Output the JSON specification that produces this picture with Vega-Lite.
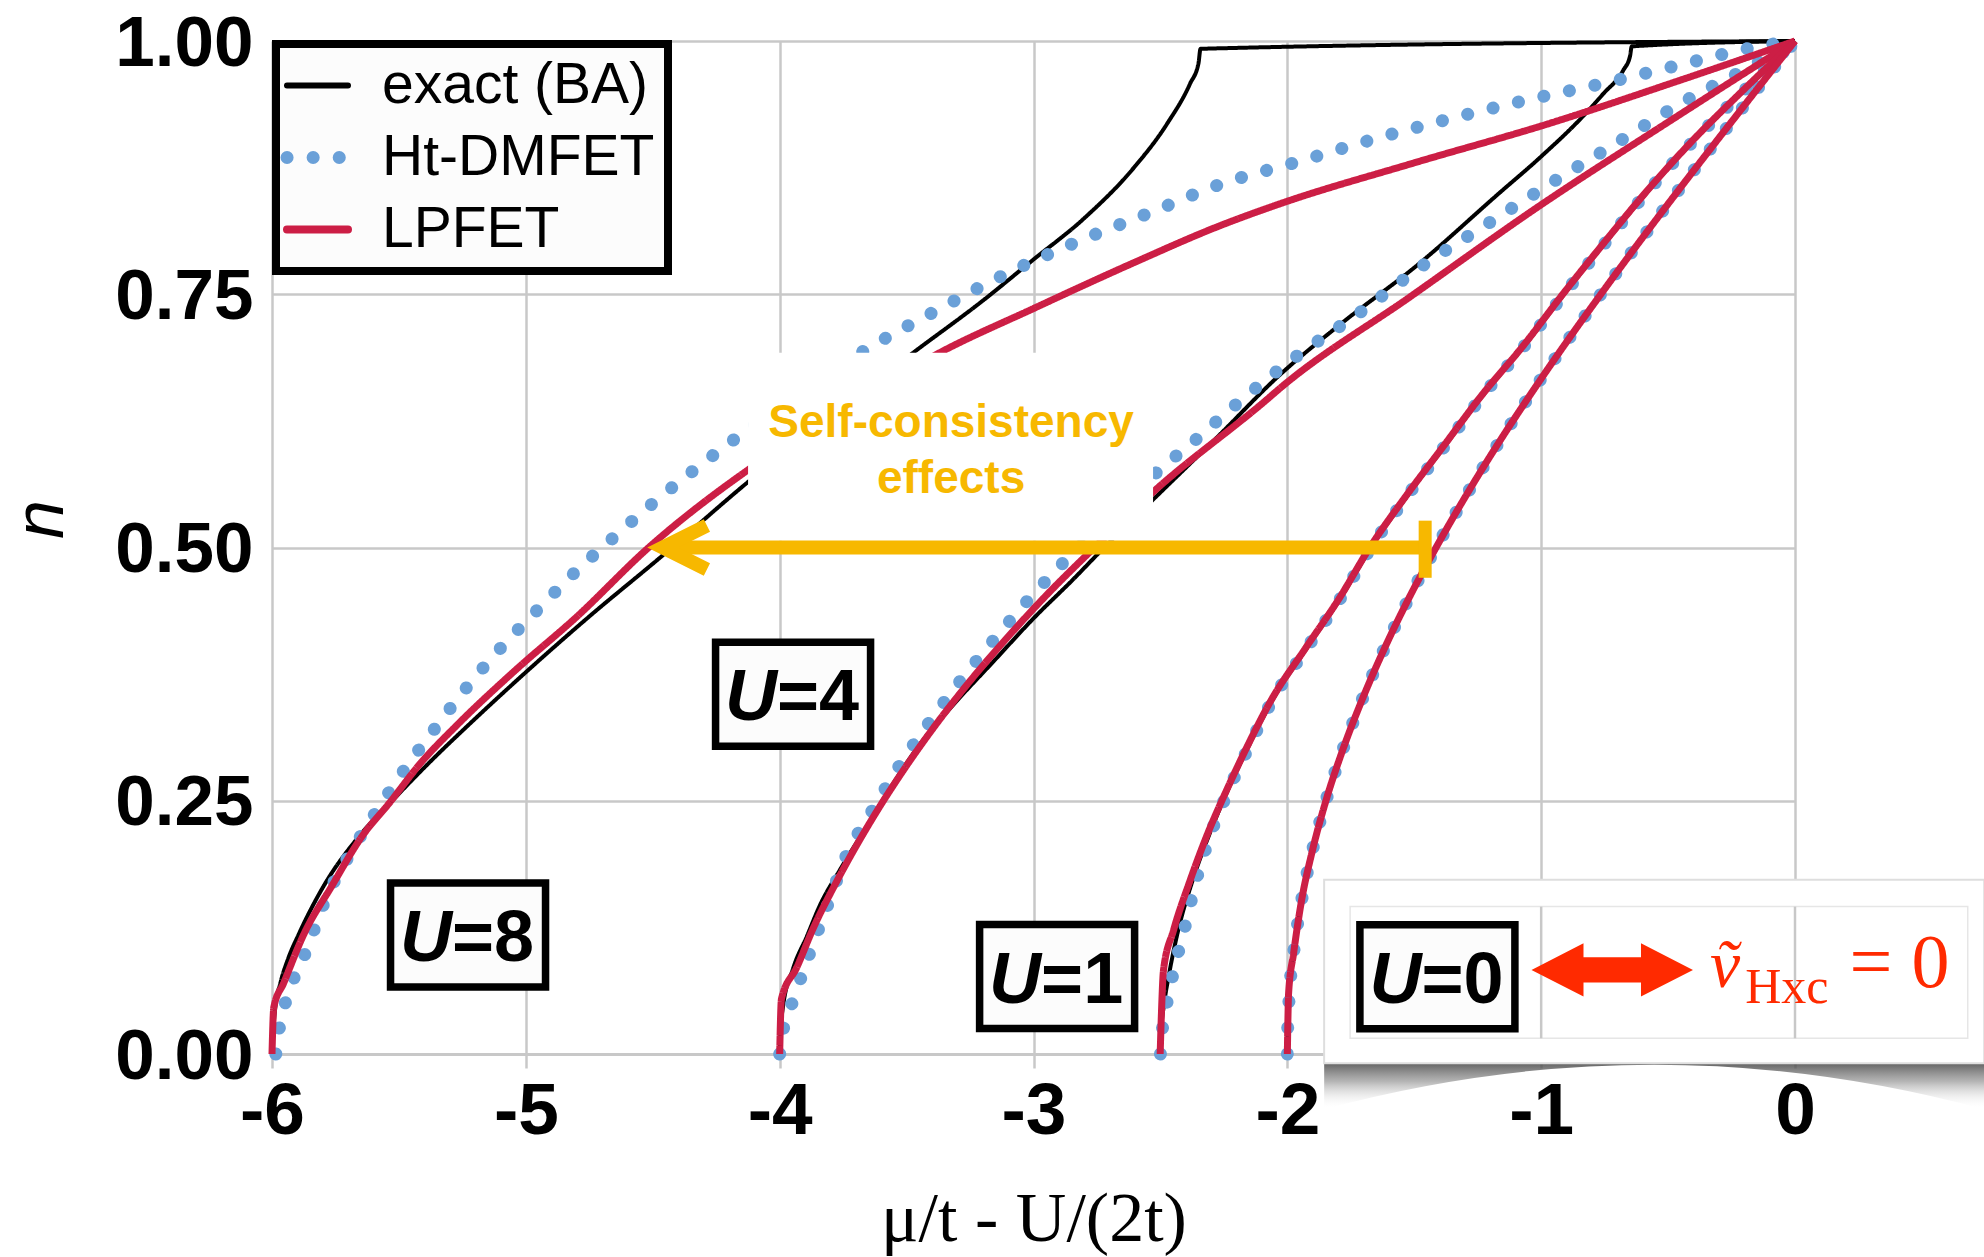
{
  "$schema": "https://vega.github.io/schema/vega-lite/v6.json",
  "width": 1523,
  "height": 1013,
  "autosize": {"type": "none"},
  "padding": {"left": 272, "top": 41, "right": 189, "bottom": 203},
  "background": "#ffffff",
  "config": {"view": {"stroke": null}, "font": "Liberation Sans"},
  "data": {"values": [
    {"U":8,"method":"exact (BA)","mu":-6.0,"n":0},
    {"U":8,"method":"exact (BA)","mu":-5.996,"n":0.02},
    {"U":8,"method":"exact (BA)","mu":-5.987,"n":0.046},
    {"U":8,"method":"exact (BA)","mu":-5.967,"n":0.07},
    {"U":8,"method":"exact (BA)","mu":-5.935,"n":0.095},
    {"U":8,"method":"exact (BA)","mu":-5.895,"n":0.118},
    {"U":8,"method":"exact (BA)","mu":-5.796,"n":0.166},
    {"U":8,"method":"exact (BA)","mu":-5.66,"n":0.214},
    {"U":8,"method":"exact (BA)","mu":-5.534,"n":0.248},
    {"U":8,"method":"exact (BA)","mu":-5.383,"n":0.287},
    {"U":8,"method":"exact (BA)","mu":-5.225,"n":0.325},
    {"U":8,"method":"exact (BA)","mu":-4.995,"n":0.378},
    {"U":8,"method":"exact (BA)","mu":-4.752,"n":0.4315},
    {"U":8,"method":"exact (BA)","mu":-4.476,"n":0.489},
    {"U":8,"method":"exact (BA)","mu":-4.128,"n":0.564},
    {"U":8,"method":"exact (BA)","mu":-3.8,"n":0.63},
    {"U":8,"method":"exact (BA)","mu":-3.473,"n":0.6925},
    {"U":8,"method":"exact (BA)","mu":-3.197,"n":0.7442},
    {"U":8,"method":"exact (BA)","mu":-3.0,"n":0.7843},
    {"U":8,"method":"exact (BA)","mu":-2.803,"n":0.8244},
    {"U":8,"method":"exact (BA)","mu":-2.606,"n":0.8745},
    {"U":8,"method":"exact (BA)","mu":-2.475,"n":0.9178},
    {"U":8,"method":"exact (BA)","mu":-2.383,"n":0.958},
    {"U":8,"method":"exact (BA)","mu":-2.35,"n":0.978},
    {"U":8,"method":"exact (BA)","mu":-2.342,"n":0.9923},
    {"U":8,"method":"exact (BA)","mu":0,"n":1.0},

    {"U":8,"method":"LPFET","mu":-6.0,"n":0},
    {"U":8,"method":"LPFET","mu":-5.993,"n":0.046},
    {"U":8,"method":"LPFET","mu":-5.954,"n":0.07},
    {"U":8,"method":"LPFET","mu":-5.875,"n":0.118},
    {"U":8,"method":"LPFET","mu":-5.764,"n":0.166},
    {"U":8,"method":"LPFET","mu":-5.645,"n":0.215},
    {"U":8,"method":"LPFET","mu":-5.537,"n":0.248},
    {"U":8,"method":"LPFET","mu":-5.415,"n":0.287},
    {"U":8,"method":"LPFET","mu":-5.27,"n":0.325},
    {"U":8,"method":"LPFET","mu":-5.045,"n":0.378},
    {"U":8,"method":"LPFET","mu":-4.8,"n":0.4315},
    {"U":8,"method":"LPFET","mu":-4.516,"n":0.5},
    {"U":8,"method":"LPFET","mu":-4.128,"n":0.576},
    {"U":8,"method":"LPFET","mu":-3.75,"n":0.636},
    {"U":8,"method":"LPFET","mu":-3.368,"n":0.6925},
    {"U":8,"method":"LPFET","mu":-3.0,"n":0.7359},
    {"U":8,"method":"LPFET","mu":-2.606,"n":0.781},
    {"U":8,"method":"LPFET","mu":-2.265,"n":0.8177},
    {"U":8,"method":"LPFET","mu":-2.028,"n":0.8394},
    {"U":8,"method":"LPFET","mu":-1.503,"n":0.8795},
    {"U":8,"method":"LPFET","mu":-0.978,"n":0.9178},
    {"U":8,"method":"LPFET","mu":-0.452,"n":0.9613},
    {"U":8,"method":"LPFET","mu":0,"n":1.0},

    {"U":8,"method":"Ht-DMFET","mu":-5.985,"n":0},
    {"U":8,"method":"Ht-DMFET","mu":-5.967,"n":0.0316},
    {"U":8,"method":"Ht-DMFET","mu":-5.941,"n":0.0556},
    {"U":8,"method":"Ht-DMFET","mu":-5.862,"n":0.1038},
    {"U":8,"method":"Ht-DMFET","mu":-5.79,"n":0.152},
    {"U":8,"method":"Ht-DMFET","mu":-5.698,"n":0.1954},
    {"U":8,"method":"Ht-DMFET","mu":-5.593,"n":0.2378},
    {"U":8,"method":"Ht-DMFET","mu":-5.481,"n":0.2797},
    {"U":8,"method":"Ht-DMFET","mu":-5.36,"n":0.3207},
    {"U":8,"method":"Ht-DMFET","mu":-5.234,"n":0.3616},
    {"U":8,"method":"Ht-DMFET","mu":-5.098,"n":0.4011},
    {"U":8,"method":"Ht-DMFET","mu":-4.955,"n":0.4382},
    {"U":8,"method":"Ht-DMFET","mu":-4.809,"n":0.4749},
    {"U":8,"method":"Ht-DMFET","mu":-4.656,"n":0.5095},
    {"U":8,"method":"Ht-DMFET","mu":-4.499,"n":0.5438},
    {"U":8,"method":"Ht-DMFET","mu":-4.337,"n":0.5765},
    {"U":8,"method":"Ht-DMFET","mu":-4.173,"n":0.6078},
    {"U":8,"method":"Ht-DMFET","mu":-3.91,"n":0.654},
    {"U":8,"method":"Ht-DMFET","mu":-3.657,"n":0.6958},
    {"U":8,"method":"Ht-DMFET","mu":-3.388,"n":0.7332},
    {"U":8,"method":"Ht-DMFET","mu":-3.115,"n":0.7693},
    {"U":8,"method":"Ht-DMFET","mu":-2.832,"n":0.8014},
    {"U":8,"method":"Ht-DMFET","mu":-2.542,"n":0.8304},
    {"U":8,"method":"Ht-DMFET","mu":-2.265,"n":0.8585},
    {"U":8,"method":"Ht-DMFET","mu":-1.953,"n":0.8812},
    {"U":8,"method":"Ht-DMFET","mu":-1.654,"n":0.9035},
    {"U":8,"method":"Ht-DMFET","mu":-1.354,"n":0.9236},
    {"U":8,"method":"Ht-DMFET","mu":-1.053,"n":0.9419},
    {"U":8,"method":"Ht-DMFET","mu":-0.748,"n":0.9586},
    {"U":8,"method":"Ht-DMFET","mu":-0.444,"n":0.977},
    {"U":8,"method":"Ht-DMFET","mu":-0.141,"n":0.9947},
    {"U":8,"method":"Ht-DMFET","mu":0,"n":1.0},

    {"U":4,"method":"exact (BA)","mu":-4.0,"n":0},
    {"U":4,"method":"exact (BA)","mu":-3.997,"n":0.02},
    {"U":4,"method":"exact (BA)","mu":-3.987,"n":0.0464},
    {"U":4,"method":"exact (BA)","mu":-3.946,"n":0.0852},
    {"U":4,"method":"exact (BA)","mu":-3.893,"n":0.116},
    {"U":4,"method":"exact (BA)","mu":-3.841,"n":0.147},
    {"U":4,"method":"exact (BA)","mu":-3.762,"n":0.182},
    {"U":4,"method":"exact (BA)","mu":-3.657,"n":0.2247},
    {"U":4,"method":"exact (BA)","mu":-3.552,"n":0.2673},
    {"U":4,"method":"exact (BA)","mu":-3.447,"n":0.306},
    {"U":4,"method":"exact (BA)","mu":-3.316,"n":0.3447},
    {"U":4,"method":"exact (BA)","mu":-3.158,"n":0.3874},
    {"U":4,"method":"exact (BA)","mu":-3.0,"n":0.43},
    {"U":4,"method":"exact (BA)","mu":-2.843,"n":0.4687},
    {"U":4,"method":"exact (BA)","mu":-2.738,"n":0.4958},
    {"U":4,"method":"exact (BA)","mu":-2.528,"n":0.5475},
    {"U":4,"method":"exact (BA)","mu":-2.28,"n":0.608},
    {"U":4,"method":"exact (BA)","mu":-2.028,"n":0.6708},
    {"U":4,"method":"exact (BA)","mu":-1.805,"n":0.7176},
    {"U":4,"method":"exact (BA)","mu":-1.477,"n":0.781},
    {"U":4,"method":"exact (BA)","mu":-1.175,"n":0.8477},
    {"U":4,"method":"exact (BA)","mu":-1.0,"n":0.886},
    {"U":4,"method":"exact (BA)","mu":-0.846,"n":0.9229},
    {"U":4,"method":"exact (BA)","mu":-0.755,"n":0.948},
    {"U":4,"method":"exact (BA)","mu":-0.676,"n":0.9713},
    {"U":4,"method":"exact (BA)","mu":-0.65,"n":0.985},
    {"U":4,"method":"exact (BA)","mu":-0.643,"n":0.9947},
    {"U":4,"method":"exact (BA)","mu":0,"n":1.0},

    {"U":4,"method":"LPFET","mu":-4.0,"n":0},
    {"U":4,"method":"LPFET","mu":-3.993,"n":0.0543},
    {"U":4,"method":"LPFET","mu":-3.933,"n":0.0852},
    {"U":4,"method":"LPFET","mu":-3.868,"n":0.124},
    {"U":4,"method":"LPFET","mu":-3.775,"n":0.1705},
    {"U":4,"method":"LPFET","mu":-3.644,"n":0.2286},
    {"U":4,"method":"LPFET","mu":-3.526,"n":0.2751},
    {"U":4,"method":"LPFET","mu":-3.407,"n":0.3176},
    {"U":4,"method":"LPFET","mu":-3.263,"n":0.3642},
    {"U":4,"method":"LPFET","mu":-3.105,"n":0.4106},
    {"U":4,"method":"LPFET","mu":-2.948,"n":0.4532},
    {"U":4,"method":"LPFET","mu":-2.777,"n":0.4958},
    {"U":4,"method":"LPFET","mu":-2.528,"n":0.555},
    {"U":4,"method":"LPFET","mu":-2.081,"n":0.646},
    {"U":4,"method":"LPFET","mu":-2.028,"n":0.6574},
    {"U":4,"method":"LPFET","mu":-1.516,"n":0.7475},
    {"U":4,"method":"LPFET","mu":-1.004,"n":0.8377},
    {"U":4,"method":"LPFET","mu":-0.492,"n":0.9212},
    {"U":4,"method":"LPFET","mu":0,"n":1.0},

    {"U":4,"method":"Ht-DMFET","mu":-4.0,"n":0},
    {"U":4,"method":"Ht-DMFET","mu":-3.985,"n":0.025},
    {"U":4,"method":"Ht-DMFET","mu":-3.948,"n":0.0523},
    {"U":4,"method":"Ht-DMFET","mu":-3.88,"n":0.1007},
    {"U":4,"method":"Ht-DMFET","mu":-3.808,"n":0.1491},
    {"U":4,"method":"Ht-DMFET","mu":-3.738,"n":0.1955},
    {"U":4,"method":"Ht-DMFET","mu":-3.64,"n":0.2382},
    {"U":4,"method":"Ht-DMFET","mu":-3.536,"n":0.2816},
    {"U":4,"method":"Ht-DMFET","mu":-3.422,"n":0.3234},
    {"U":4,"method":"Ht-DMFET","mu":-3.301,"n":0.3641},
    {"U":4,"method":"Ht-DMFET","mu":-3.171,"n":0.4044},
    {"U":4,"method":"Ht-DMFET","mu":-3.036,"n":0.4439},
    {"U":4,"method":"Ht-DMFET","mu":-2.895,"n":0.4819},
    {"U":4,"method":"Ht-DMFET","mu":-2.7,"n":0.528},
    {"U":4,"method":"Ht-DMFET","mu":-2.521,"n":0.5727},
    {"U":4,"method":"Ht-DMFET","mu":-2.366,"n":0.6053},
    {"U":4,"method":"Ht-DMFET","mu":-2.208,"n":0.64},
    {"U":4,"method":"Ht-DMFET","mu":-1.967,"n":0.6881},
    {"U":4,"method":"Ht-DMFET","mu":-1.713,"n":0.7322},
    {"U":4,"method":"Ht-DMFET","mu":-1.464,"n":0.7787},
    {"U":4,"method":"Ht-DMFET","mu":-1.208,"n":0.82},
    {"U":4,"method":"Ht-DMFET","mu":-0.952,"n":0.8611},
    {"U":4,"method":"Ht-DMFET","mu":-0.697,"n":0.9002},
    {"U":4,"method":"Ht-DMFET","mu":-0.442,"n":0.9396},
    {"U":4,"method":"Ht-DMFET","mu":-0.177,"n":0.9746},
    {"U":4,"method":"Ht-DMFET","mu":0,"n":1.0},

    {"U":1,"method":"exact (BA)","mu":-2.5,"n":0},
    {"U":1,"method":"exact (BA)","mu":-2.498,"n":0.02},
    {"U":1,"method":"exact (BA)","mu":-2.485,"n":0.05},
    {"U":1,"method":"exact (BA)","mu":-2.465,"n":0.08},
    {"U":1,"method":"exact (BA)","mu":-2.432,"n":0.12},
    {"U":1,"method":"exact (BA)","mu":-2.375,"n":0.17},
    {"U":1,"method":"exact (BA)","mu":-2.31,"n":0.215},
    {"U":1,"method":"exact (BA)","mu":-2.235,"n":0.26},
    {"U":1,"method":"exact (BA)","mu":-2.16,"n":0.3},
    {"U":1,"method":"exact (BA)","mu":-2.057,"n":0.35},
    {"U":1,"method":"exact (BA)","mu":-1.925,"n":0.4},
    {"U":1,"method":"exact (BA)","mu":-1.79,"n":0.45},
    {"U":1,"method":"exact (BA)","mu":-1.67,"n":0.5},
    {"U":1,"method":"exact (BA)","mu":-1.53,"n":0.55},
    {"U":1,"method":"exact (BA)","mu":-1.38,"n":0.6},
    {"U":1,"method":"exact (BA)","mu":-1.23,"n":0.65},
    {"U":1,"method":"exact (BA)","mu":-1.063,"n":0.7},
    {"U":1,"method":"exact (BA)","mu":-0.91,"n":0.75},
    {"U":1,"method":"exact (BA)","mu":-0.75,"n":0.8},
    {"U":1,"method":"exact (BA)","mu":-0.585,"n":0.85},
    {"U":1,"method":"exact (BA)","mu":-0.405,"n":0.9},
    {"U":1,"method":"exact (BA)","mu":-0.205,"n":0.95},
    {"U":1,"method":"exact (BA)","mu":0,"n":1.0},

    {"U":1,"method":"LPFET","mu":-2.501,"n":0},
    {"U":1,"method":"LPFET","mu":-2.496,"n":0.04},
    {"U":1,"method":"LPFET","mu":-2.488,"n":0.0826},
    {"U":1,"method":"LPFET","mu":-2.448,"n":0.1224},
    {"U":1,"method":"LPFET","mu":-2.385,"n":0.17},
    {"U":1,"method":"LPFET","mu":-2.318,"n":0.215},
    {"U":1,"method":"LPFET","mu":-2.24,"n":0.26},
    {"U":1,"method":"LPFET","mu":-2.165,"n":0.3},
    {"U":1,"method":"LPFET","mu":-2.062,"n":0.35},
    {"U":1,"method":"LPFET","mu":-1.93,"n":0.4},
    {"U":1,"method":"LPFET","mu":-1.795,"n":0.45},
    {"U":1,"method":"LPFET","mu":-1.675,"n":0.5},
    {"U":1,"method":"LPFET","mu":-1.535,"n":0.55},
    {"U":1,"method":"LPFET","mu":-1.385,"n":0.6},
    {"U":1,"method":"LPFET","mu":-1.235,"n":0.65},
    {"U":1,"method":"LPFET","mu":-1.068,"n":0.7},
    {"U":1,"method":"LPFET","mu":-0.915,"n":0.75},
    {"U":1,"method":"LPFET","mu":-0.755,"n":0.8},
    {"U":1,"method":"LPFET","mu":-0.59,"n":0.85},
    {"U":1,"method":"LPFET","mu":-0.41,"n":0.9},
    {"U":1,"method":"LPFET","mu":-0.21,"n":0.95},
    {"U":1,"method":"LPFET","mu":0,"n":1.0},

    {"U":1,"method":"Ht-DMFET","mu":-2.5,"n":0},
    {"U":1,"method":"Ht-DMFET","mu":-2.492,"n":0.025},
    {"U":1,"method":"Ht-DMFET","mu":-2.475,"n":0.05},
    {"U":1,"method":"Ht-DMFET","mu":-2.452,"n":0.0774},
    {"U":1,"method":"Ht-DMFET","mu":-2.403,"n":0.1258},
    {"U":1,"method":"Ht-DMFET","mu":-2.36,"n":0.1705},
    {"U":1,"method":"Ht-DMFET","mu":-2.305,"n":0.215},
    {"U":1,"method":"Ht-DMFET","mu":-2.232,"n":0.26},
    {"U":1,"method":"Ht-DMFET","mu":-2.158,"n":0.3},
    {"U":1,"method":"Ht-DMFET","mu":-2.057,"n":0.35},
    {"U":1,"method":"Ht-DMFET","mu":-1.925,"n":0.4},
    {"U":1,"method":"Ht-DMFET","mu":-1.79,"n":0.45},
    {"U":1,"method":"Ht-DMFET","mu":-1.67,"n":0.5},
    {"U":1,"method":"Ht-DMFET","mu":-1.53,"n":0.55},
    {"U":1,"method":"Ht-DMFET","mu":-1.38,"n":0.6},
    {"U":1,"method":"Ht-DMFET","mu":-1.23,"n":0.65},
    {"U":1,"method":"Ht-DMFET","mu":-1.063,"n":0.7},
    {"U":1,"method":"Ht-DMFET","mu":-0.91,"n":0.75},
    {"U":1,"method":"Ht-DMFET","mu":-0.75,"n":0.8},
    {"U":1,"method":"Ht-DMFET","mu":-0.585,"n":0.85},
    {"U":1,"method":"Ht-DMFET","mu":-0.405,"n":0.9},
    {"U":1,"method":"Ht-DMFET","mu":-0.205,"n":0.95},
    {"U":1,"method":"Ht-DMFET","mu":0,"n":1.0},

    {"U":0,"method":"exact (BA)","mu":-2.0,"n":0},
    {"U":0,"method":"exact (BA)","mu":-1.999,"n":0.02},
    {"U":0,"method":"exact (BA)","mu":-1.994,"n":0.05},
    {"U":0,"method":"exact (BA)","mu":-1.975,"n":0.1},
    {"U":0,"method":"exact (BA)","mu":-1.945,"n":0.15},
    {"U":0,"method":"exact (BA)","mu":-1.902,"n":0.2},
    {"U":0,"method":"exact (BA)","mu":-1.848,"n":0.25},
    {"U":0,"method":"exact (BA)","mu":-1.782,"n":0.3},
    {"U":0,"method":"exact (BA)","mu":-1.705,"n":0.35},
    {"U":0,"method":"exact (BA)","mu":-1.618,"n":0.4},
    {"U":0,"method":"exact (BA)","mu":-1.521,"n":0.45},
    {"U":0,"method":"exact (BA)","mu":-1.414,"n":0.5},
    {"U":0,"method":"exact (BA)","mu":-1.299,"n":0.55},
    {"U":0,"method":"exact (BA)","mu":-1.176,"n":0.6},
    {"U":0,"method":"exact (BA)","mu":-1.045,"n":0.65},
    {"U":0,"method":"exact (BA)","mu":-0.908,"n":0.7},
    {"U":0,"method":"exact (BA)","mu":-0.765,"n":0.75},
    {"U":0,"method":"exact (BA)","mu":-0.618,"n":0.8},
    {"U":0,"method":"exact (BA)","mu":-0.467,"n":0.85},
    {"U":0,"method":"exact (BA)","mu":-0.313,"n":0.9},
    {"U":0,"method":"exact (BA)","mu":-0.157,"n":0.95},
    {"U":0,"method":"exact (BA)","mu":0,"n":1.0},

    {"U":0,"method":"Ht-DMFET","mu":-2.0,"n":0},
    {"U":0,"method":"Ht-DMFET","mu":-1.999,"n":0.02},
    {"U":0,"method":"Ht-DMFET","mu":-1.994,"n":0.05},
    {"U":0,"method":"Ht-DMFET","mu":-1.975,"n":0.1},
    {"U":0,"method":"Ht-DMFET","mu":-1.945,"n":0.15},
    {"U":0,"method":"Ht-DMFET","mu":-1.902,"n":0.2},
    {"U":0,"method":"Ht-DMFET","mu":-1.848,"n":0.25},
    {"U":0,"method":"Ht-DMFET","mu":-1.782,"n":0.3},
    {"U":0,"method":"Ht-DMFET","mu":-1.705,"n":0.35},
    {"U":0,"method":"Ht-DMFET","mu":-1.618,"n":0.4},
    {"U":0,"method":"Ht-DMFET","mu":-1.521,"n":0.45},
    {"U":0,"method":"Ht-DMFET","mu":-1.414,"n":0.5},
    {"U":0,"method":"Ht-DMFET","mu":-1.299,"n":0.55},
    {"U":0,"method":"Ht-DMFET","mu":-1.176,"n":0.6},
    {"U":0,"method":"Ht-DMFET","mu":-1.045,"n":0.65},
    {"U":0,"method":"Ht-DMFET","mu":-0.908,"n":0.7},
    {"U":0,"method":"Ht-DMFET","mu":-0.765,"n":0.75},
    {"U":0,"method":"Ht-DMFET","mu":-0.618,"n":0.8},
    {"U":0,"method":"Ht-DMFET","mu":-0.467,"n":0.85},
    {"U":0,"method":"Ht-DMFET","mu":-0.313,"n":0.9},
    {"U":0,"method":"Ht-DMFET","mu":-0.157,"n":0.95},
    {"U":0,"method":"Ht-DMFET","mu":0,"n":1.0},

    {"U":0,"method":"LPFET","mu":-2.0,"n":0},
    {"U":0,"method":"LPFET","mu":-1.998,"n":0.03},
    {"U":0,"method":"LPFET","mu":-1.995,"n":0.06},
    {"U":0,"method":"LPFET","mu":-1.975,"n":0.1},
    {"U":0,"method":"LPFET","mu":-1.945,"n":0.15},
    {"U":0,"method":"LPFET","mu":-1.902,"n":0.2},
    {"U":0,"method":"LPFET","mu":-1.848,"n":0.25},
    {"U":0,"method":"LPFET","mu":-1.782,"n":0.3},
    {"U":0,"method":"LPFET","mu":-1.705,"n":0.35},
    {"U":0,"method":"LPFET","mu":-1.618,"n":0.4},
    {"U":0,"method":"LPFET","mu":-1.521,"n":0.45},
    {"U":0,"method":"LPFET","mu":-1.414,"n":0.5},
    {"U":0,"method":"LPFET","mu":-1.299,"n":0.55},
    {"U":0,"method":"LPFET","mu":-1.176,"n":0.6},
    {"U":0,"method":"LPFET","mu":-1.045,"n":0.65},
    {"U":0,"method":"LPFET","mu":-0.908,"n":0.7},
    {"U":0,"method":"LPFET","mu":-0.765,"n":0.75},
    {"U":0,"method":"LPFET","mu":-0.618,"n":0.8},
    {"U":0,"method":"LPFET","mu":-0.467,"n":0.85},
    {"U":0,"method":"LPFET","mu":-0.313,"n":0.9},
    {"U":0,"method":"LPFET","mu":-0.157,"n":0.95},
    {"U":0,"method":"LPFET","mu":0,"n":1.0}
  ]},
  "layer": [
    {
      "transform": [{"filter": "datum.method === 'exact (BA)'"}],
      "mark": {"type": "line", "strokeWidth": 4, "strokeJoin": "round", "interpolate": "monotone"},
      "encoding": {
        "x": {"field": "mu", "type": "quantitative",
              "scale": {"domain": [-6, 0], "nice": false, "zero": false},
              "axis": {"title": "μ/t - U/(2t)", "values": [-6, -5, -4, -3, -2, -1, 0], "format": "d",
                       "labelExpr": "replace(datum.label, '−', '-')",
                       "labelFont": "Liberation Sans", "labelFontWeight": "bold", "labelFontSize": 73, "labelColor": "#000000",
                       "labelPadding": 7, "labelFlush": false, "labelOverlap": false,
                       "tickSize": 14, "tickColor": "#c8c8c8", "tickWidth": 2.5,
                       "domain": true, "domainColor": "#c8c8c8", "domainWidth": 3,
                       "grid": true, "gridColor": "#c8c8c8", "gridWidth": 2.5,
                       "titleFont": "Liberation Serif", "titleFontSize": 70, "titleFontWeight": "normal", "titleColor": "#000000",
                       "titleBaseline": "middle", "titleY": 165}},
        "y": {"field": "n", "type": "quantitative",
              "scale": {"domain": [0, 1], "nice": false, "zero": false},
              "axis": {"title": "n", "values": [0, 0.25, 0.5, 0.75, 1], "format": ".2f",
                       "labelFont": "Liberation Sans", "labelFontWeight": "bold", "labelFontSize": 71, "labelColor": "#000000",
                       "labelPadding": 19, "labelFlush": false, "labelOverlap": false,
                       "labelBaseline": "alphabetic", "labelOffset": 24,
                       "ticks": false, "domain": false,
                       "grid": true, "gridColor": "#c8c8c8", "gridWidth": 2.5,
                       "titleFont": "Liberation Sans", "titleFontStyle": "italic", "titleFontWeight": "normal", "titleFontSize": 70, "titleColor": "#000000",
                       "titleBaseline": "middle", "titleAlign": "center", "titleX": -231, "titleY": 478}},
        "detail": {"field": "U", "type": "nominal"},
        "order": {"field": "n", "type": "quantitative"},
        "color": {"field": "method", "type": "nominal",
                  "scale": {"domain": ["exact (BA)", "Ht-DMFET", "LPFET"], "range": ["#000000", "#6aa0d8", "#cc1e45"]},
                  "legend": {"title": null, "orient": "none", "legendX": 4, "legendY": 3,
                             "fillColor": "#fcfcfc", "strokeColor": "#000000", "padding": 13,
                             "rowPadding": 14, "labelFont": "Liberation Sans", "labelFontSize": 57, "labelColor": "#000000",
                             "labelOffset": 36, "labelLimit": 600, "labelExpr": "datum.label + '\u00a0\u00a0'", "symbolSize": 3721, "symbolType": "stroke", "symbolStrokeWidth": 7,
                             "encode": {"legend": {"update": {"strokeWidth": {"value": 8}}},
                                        "symbols": {"update": {"strokeWidth": {"signal": "datum.value === 'Ht-DMFET' ? 13 : datum.value === 'LPFET' ? 8 : 6"}, "strokeCap": {"value": "round"}}}}}},
        "strokeDash": {"field": "method", "type": "nominal",
                  "scale": {"domain": ["exact (BA)", "Ht-DMFET", "LPFET"], "range": [[1, 0], [0.1, 26], [1, 0]]},
                  "legend": {"title": null, "orient": "none", "legendX": 4, "legendY": 3,
                             "fillColor": "#fcfcfc", "strokeColor": "#000000", "padding": 13,
                             "rowPadding": 14, "labelFont": "Liberation Sans", "labelFontSize": 57, "labelColor": "#000000",
                             "labelOffset": 36, "labelLimit": 600, "labelExpr": "datum.label + '\u00a0\u00a0'", "symbolSize": 3721, "symbolType": "stroke", "symbolStrokeWidth": 7,
                             "encode": {"legend": {"update": {"strokeWidth": {"value": 8}}},
                                        "symbols": {"update": {"strokeWidth": {"signal": "datum.value === 'Ht-DMFET' ? 13 : datum.value === 'LPFET' ? 8 : 6"}, "strokeCap": {"value": "round"}}}}}}
      }
    },
    {
      "transform": [{"filter": "datum.method === 'Ht-DMFET'"}],
      "mark": {"type": "line", "strokeWidth": 13, "strokeCap": "round", "interpolate": "monotone"},
      "encoding": {
        "x": {"field": "mu", "type": "quantitative"},
        "y": {"field": "n", "type": "quantitative"},
        "detail": {"field": "U", "type": "nominal"},
        "order": {"field": "n", "type": "quantitative"},
        "color": {"field": "method", "type": "nominal"},
        "strokeDash": {"field": "method", "type": "nominal"}
      }
    },
    {
      "transform": [{"filter": "datum.method === 'LPFET'"}],
      "mark": {"type": "line", "strokeWidth": 7, "strokeJoin": "round", "interpolate": "monotone"},
      "encoding": {
        "x": {"field": "mu", "type": "quantitative"},
        "y": {"field": "n", "type": "quantitative"},
        "detail": {"field": "U", "type": "nominal"},
        "order": {"field": "n", "type": "quantitative"},
        "color": {"field": "method", "type": "nominal"},
        "strokeDash": {"field": "method", "type": "nominal"}
      }
    },
    {
      "data": {"values": [{}]},
      "mark": {"type": "rect", "fill": "#ffffff"},
      "encoding": {"x": {"datum": -4.1245}, "x2": {"datum": -2.529}, "y": {"datum": 0.6923}, "y2": {"datum": 0.5067}}
    },
    {
      "data": {"values": [{}]},
      "mark": {"type": "text", "text": ["Self-consistency", "effects"], "font": "Liberation Sans", "fontWeight": "bold", "fontSize": 46, "color": "#f7b800", "align": "center", "baseline": "alphabetic", "lineHeight": 56},
      "encoding": {"x": {"datum": -3.3247}, "y": {"datum": 0.609}}
    },
    {
      "data": {"values": [{}]},
      "mark": {"type": "rule", "color": "#f7b800", "strokeWidth": 14},
      "encoding": {"x": {"datum": -4.46}, "x2": {"datum": -1.457}, "y": {"datum": 0.5}}
    },
    {
      "data": {"values": [{}]},
      "mark": {"type": "rule", "color": "#f7b800", "strokeWidth": 13},
      "encoding": {"x": {"datum": -1.457}, "y": {"datum": 0.4701}, "y2": {"datum": 0.5265}}
    },
    {
      "data": {"values": [{}]},
      "mark": {"type": "point", "shape": "M2,-1L0,0L2,1", "size": 1936, "filled": false, "color": "#f7b800", "strokeWidth": 14, "opacity": 1, "strokeCap": "butt"},
      "encoding": {"x": {"datum": -4.46}, "y": {"datum": 0.5}}
    },
    {
      "data": {"values": [{}]},
      "mark": {"type": "point", "shape": "M-1,0L1,0L1,0.14Q0,-0.13 -1,0.14Z", "size": 435600, "filled": true, "opacity": 1, "strokeWidth": 0,
               "fill": {"gradient": "linear", "x1": 0, "y1": 0, "x2": 0, "y2": 1, "stops": [{"offset": 0, "color": "rgba(70,70,70,0.85)"}, {"offset": 0.4, "color": "rgba(120,120,120,0.55)"}, {"offset": 1, "color": "rgba(255,255,255,0)"}]}},
      "encoding": {"x": {"datum": -0.5548}, "y": {"datum": -0.0089}}
    },
    {
      "data": {"values": [{}]},
      "mark": {"type": "rect", "fill": "#ffffff", "stroke": "#dedede", "strokeWidth": 2},
      "encoding": {"x": {"datum": -1.855}, "x2": {"datum": 0.7455}, "y": {"datum": 0.1719}, "y2": {"datum": -0.0092}}
    },
    {
      "data": {"values": [{}]},
      "mark": {"type": "rect", "fillOpacity": 0, "stroke": "#e6e6e6", "strokeWidth": 1.5},
      "encoding": {"x": {"datum": -1.7526}, "x2": {"datum": 0.6805}, "y": {"datum": 0.1455}, "y2": {"datum": 0.0155}}
    },
    {
      "data": {"values": [{}]},
      "mark": {"type": "rule", "color": "#c8c8c8", "strokeWidth": 2.5},
      "encoding": {"x": {"datum": -1}, "y": {"datum": 0.0155}, "y2": {"datum": 0.1455}}
    },
    {
      "data": {"values": [{}]},
      "mark": {"type": "rule", "color": "#c8c8c8", "strokeWidth": 2.5},
      "encoding": {"x": {"datum": 0}, "y": {"datum": 0.0155}, "y2": {"datum": 0.1455}}
    },
    {
      "data": {"values": [
        {"U": "8", "eq": "=8", "mu": -5.2277, "n": 0.1175},
        {"U": "4", "eq": "=4", "mu": -3.9472, "n": 0.3551},
        {"U": "1", "eq": "=1", "mu": -2.907, "n": 0.0764},
        {"U": "0", "eq": "=0", "mu": -1.4088, "n": 0.0763}
      ]},
      "encoding": {"x": {"field": "mu", "type": "quantitative"}, "y": {"field": "n", "type": "quantitative"}},
      "layer": [
        {"mark": {"type": "point", "shape": "M-1,-0.671L1,-0.671L1,0.671L-1,0.671Z", "size": 24025, "filled": true, "fill": "#fcfcfc", "stroke": "#000000", "strokeWidth": 7.5, "opacity": 1}},
        {"mark": {"type": "text", "text": "U", "font": "Liberation Sans", "fontWeight": "bold", "fontStyle": "italic", "fontSize": 72, "color": "#000000", "align": "right", "baseline": "middle", "dx": -16, "dy": 4}},
        {"mark": {"type": "text", "font": "Liberation Sans", "fontWeight": "bold", "fontSize": 72, "color": "#000000", "align": "left", "baseline": "middle", "dx": -16, "dy": 4},
         "encoding": {"text": {"field": "eq", "type": "nominal"}}}
      ]
    },
    {
      "data": {"values": [{}]},
      "mark": {"type": "point", "shape": "M-1,0L-0.356,-0.33L-0.356,-0.157L0.356,-0.157L0.356,-0.33L1,0L0.356,0.33L0.356,0.157L-0.356,0.157L-0.356,0.33Z", "size": 26082, "filled": true, "color": "#ff2a00", "opacity": 1, "strokeWidth": 0},
      "encoding": {"x": {"datum": -0.72}, "y": {"datum": 0.083}}
    },
    {
      "data": {"values": [{}]},
      "mark": {"type": "text", "text": "ṽ", "font": "Liberation Serif", "fontStyle": "italic", "fontSize": 68, "color": "#ff2a00", "align": "left", "baseline": "alphabetic"},
      "encoding": {"x": {"datum": -0.335}, "y": {"datum": 0.0662}}
    },
    {
      "data": {"values": [{}]},
      "mark": {"type": "text", "text": "Hxc", "font": "Liberation Serif", "fontSize": 50, "color": "#ff2a00", "align": "left", "baseline": "alphabetic"},
      "encoding": {"x": {"datum": -0.196}, "y": {"datum": 0.0504}}
    },
    {
      "data": {"values": [{}]},
      "mark": {"type": "text", "text": "= 0", "font": "Liberation Serif", "fontSize": 76, "color": "#ff2a00", "align": "left", "baseline": "alphabetic"},
      "encoding": {"x": {"datum": 0.215}, "y": {"datum": 0.0662}}
    }
  ]
}
